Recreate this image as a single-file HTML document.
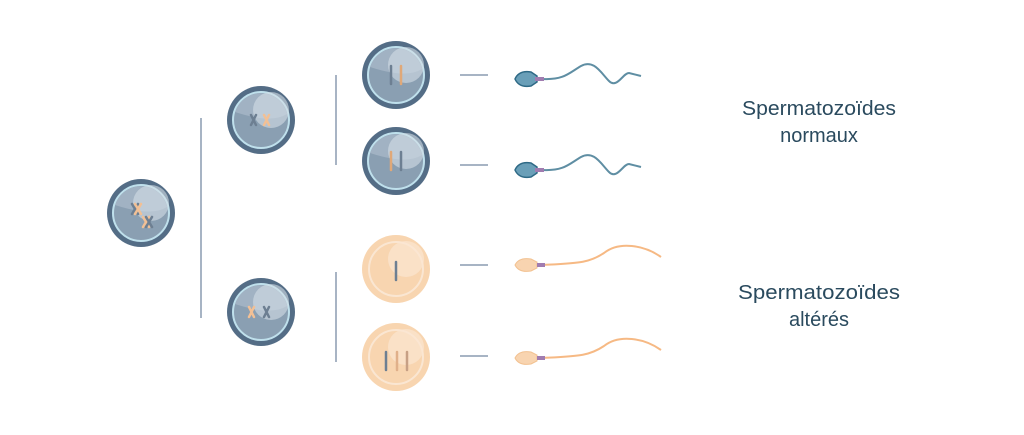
<!DOCTYPE html>
<html><head><meta charset="utf-8"><style>
html,body{margin:0;padding:0;background:#fff;width:1024px;height:435px;overflow:hidden}
</style></head><body>
<svg width="1024" height="435" viewBox="0 0 1024 435" xmlns="http://www.w3.org/2000/svg">
<defs>
<g id="bc">
  <circle r="34" fill="#546d86"/>
  <circle r="28" fill="#8a9fb2" stroke="#bfe0ec" stroke-width="2"/>
  <path d="M-26,-8 A27,27 0 0 1 26,-6 Q10,4 -26,-8Z" fill="#a6b7c7" opacity="0.8"/>
  <circle cx="10" cy="-10" r="18" fill="#d3dde6" opacity="0.6"/>
</g>
<g id="oc">
  <circle r="34" fill="#f8d5b0"/>
  <circle r="27" fill="none" stroke="#fae6d2" stroke-width="2"/>
  <circle cx="10" cy="-10" r="18" fill="#fbe6d2" opacity="0.7"/>
</g>
<g id="bs">
  <path d="M24,0 C45,1 50,-6 62,-13 C75,-20 82,-6 90,2 C98,10 104,-6 110,-6 L122,-3" fill="none" stroke="#5f8ea3" stroke-width="2"/>
  <path d="M-4,0 Q0,-9 12,-7 L18,-3 L18,3 L12,7 Q0,9 -4,0Z" fill="#6a9fb8" stroke="#2f6a86" stroke-width="1.5"/>
  <rect x="16" y="-2" width="9" height="4" fill="#a07cb0"/>
</g>
<g id="os">
  <path d="M24,0 C60,-2 70,-2 85,-12 C100,-24 125,-20 142,-8" fill="none" stroke="#f6b984" stroke-width="2"/>
  <path d="M-4,0 Q0,-8 12,-6 L18,-3 L18,3 L12,6 Q0,8 -4,0Z" fill="#f8d4b0" stroke="#f2c190" stroke-width="1"/>
  <rect x="18" y="-2" width="8" height="4" fill="#a07cb0"/>
</g>
</defs>
<g stroke="#8a9bb0" stroke-width="1.5">
<line x1="201" y1="118" x2="201" y2="318"/>
<line x1="336" y1="75" x2="336" y2="165"/>
<line x1="336" y1="272" x2="336" y2="362"/>
<line x1="460" y1="75" x2="488" y2="75"/>
<line x1="460" y1="165" x2="488" y2="165"/>
<line x1="460" y1="265" x2="488" y2="265"/>
<line x1="460" y1="356" x2="488" y2="356"/>
</g>
<use href="#bc" x="141" y="213"/>
<use href="#bc" x="261" y="120"/>
<use href="#bc" x="261" y="312"/>
<use href="#bc" x="396" y="75"/>
<use href="#bc" x="396" y="161"/>
<use href="#oc" x="396" y="269"/>
<use href="#oc" x="396" y="357"/>
<g stroke-width="2.5" stroke-linecap="round">
<path d="M132,204 l6,10 M138,204 l-6,10" stroke="#6d7f92"/>
<path d="M135,204 l6,10 M141,204 l-6,10" stroke="#f2c095"/>
<path d="M143,217 l6,10 M149,217 l-6,10" stroke="#f2c095"/>
<path d="M146,217 l6,10 M152,217 l-6,10" stroke="#6d7f92"/>
<path d="M251,115 l5,10 M256,115 l-5,10" stroke="#6d7f92"/>
<path d="M264,115 l5,10 M269,115 l-5,10" stroke="#f2c095"/>
<path d="M249,307 l5,10 M254,307 l-5,10" stroke="#f2c095"/>
<path d="M264,307 l5,10 M269,307 l-5,10" stroke="#6d7f92"/>
<line x1="391" y1="66" x2="391" y2="84" stroke="#6d7f92"/>
<line x1="401" y1="66" x2="401" y2="84" stroke="#e0a878"/>
<line x1="391" y1="152" x2="391" y2="170" stroke="#e0a878"/>
<line x1="401" y1="152" x2="401" y2="170" stroke="#6d7f92"/>
<line x1="396" y1="262" x2="396" y2="280" stroke="#6d7f92"/>
<line x1="386" y1="352" x2="386" y2="370" stroke="#6d7f92"/>
<line x1="397" y1="352" x2="397" y2="370" stroke="#e0b08a"/>
<line x1="407" y1="352" x2="407" y2="370" stroke="#c7a085"/>
</g>
<use href="#bs" x="519" y="79"/>
<use href="#bs" x="519" y="170"/>
<use href="#os" x="519" y="265"/>
<use href="#os" x="519" y="358"/>
<g font-family="Liberation Sans, sans-serif" font-size="20" fill="#2a4a5e" text-anchor="middle">
<text x="819" y="115" textLength="154" lengthAdjust="spacingAndGlyphs">Spermatozoïdes</text>
<text x="819" y="142">normaux</text>
<text x="819" y="299" textLength="162" lengthAdjust="spacingAndGlyphs">Spermatozoïdes</text>
<text x="819" y="326">altérés</text>
</g>
</svg>
</body></html>
